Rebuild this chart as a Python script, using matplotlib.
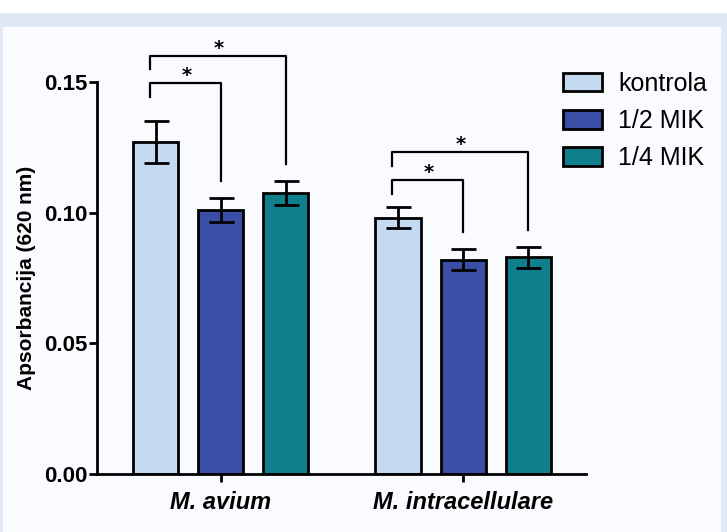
import matplotlib.pyplot as plt
import matplotlib.patches as mpatches
import numpy as np

# ---- data ----
groups = ["M. avium", "M. intracellulare"]
series = ["kontrola", "1/2 MIK", "1/4 MIK"]
means = {
    "kontrola": [0.127, 0.098],
    "1/2 MIK":  [0.101, 0.082],
    "1/4 MIK":  [0.1075, 0.083],
}
errors = {
    "kontrola": [0.0080, 0.0040],
    "1/2 MIK":  [0.0045, 0.0040],
    "1/4 MIK":  [0.0045, 0.0040],
}
colours = {"kontrola": "#c4daf0", "1/2 MIK": "#3a4ea6", "1/4 MIK": "#0f7f8e"}

# significance brackets: (group, compared series, bracket height, star label)
brackets = [
    (0, "1/2 MIK", 0.1495, "*"),
    (0, "1/4 MIK", 0.1600, "*"),
    (1, "1/2 MIK", 0.1125, "*"),
    (1, "1/4 MIK", 0.1232, "*"),
]

font = ["Liberation Sans", "DejaVu Sans"]

fig = plt.figure(figsize=(7.27, 5.32), dpi=100)
fig.patch.set_facecolor("#e1e8f5")
# white strip on top and the pale inner panel
fig.add_artist(mpatches.Rectangle((0, 1 - 12 / 532), 1, 12 / 532,
                                  transform=fig.transFigure, color="white", zorder=0))
fig.add_artist(mpatches.Rectangle((3 / 727, 0), 717 / 727, 1 - 27 / 532,
                                  transform=fig.transFigure, color="#fafbfe", zorder=0))

ax = fig.add_axes([97 / 727, 58 / 532, 489 / 727, 392 / 532])
ax.set_facecolor("none")

x = np.arange(len(groups))
step = 0.2686
width = 0.186
for i, s in enumerate(series):
    pos = x + (i - 1) * step
    ax.bar(pos, means[s], width, color=colours[s], edgecolor="black",
           linewidth=2, label=s, zorder=2)
    ax.errorbar(pos, means[s], yerr=errors[s], fmt="none", ecolor="black",
                elinewidth=2, capsize=9, capthick=2, zorder=3)

# brackets
for g, s, h, lab in brackets:
    x0 = x[g] - step - 0.025
    x1 = x[g] + (series.index(s) - 1) * step
    top_s = means[s][g] + errors[s][g]
    ax.plot([x0, x0, x1, x1],
            [h - 0.0052, h, h, top_s + 0.0065],
            color="black", lw=1.6, clip_on=False, zorder=4)
    ax.text((x0 + x1) / 2 + 0.005, h - 0.0008, lab, ha="center", va="bottom",
            fontsize=14, fontweight="bold", clip_on=False)

ax.set_xlim(-0.512, 1.508)
ax.set_ylim(0, 0.15)
ax.set_yticks([0, 0.05, 0.10, 0.15])
ax.set_yticklabels(["0.00", "0.05", "0.10", "0.15"], family=font,
                   fontweight="bold", fontsize=16)
ax.set_xticks(x)
ax.set_xticklabels(groups, family=font, fontweight="bold", style="italic",
                   fontsize=17)
ax.tick_params(axis="both", width=2, length=6, direction="out", pad=1)
ax.tick_params(axis="x", pad=6)
for side in ["top", "right"]:
    ax.spines[side].set_visible(False)
for side in ["left", "bottom"]:
    ax.spines[side].set_linewidth(2)

ax.set_ylabel("Apsorbancija (620 nm)", family=font, fontweight="bold",
              fontsize=15, labelpad=6)

leg = ax.legend(loc="upper left", bbox_to_anchor=(0.953, 1.026), frameon=False,
                prop={"family": font, "size": 18}, handlelength=1.56,
                handleheight=0.76, labelspacing=0.53, handletextpad=0.64,
                borderpad=0, borderaxespad=0)
for p in leg.get_patches():
    p.set_linewidth(2)

fig.savefig("out.png", dpi=100, facecolor=fig.get_facecolor())
